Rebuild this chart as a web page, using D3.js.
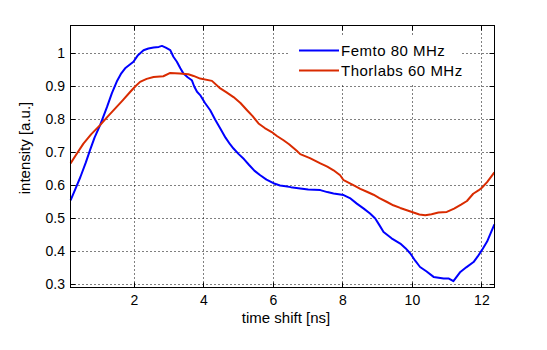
<!DOCTYPE html>
<html><head><meta charset="utf-8">
<script src="https://cdn.jsdelivr.net/npm/d3@7"></script>
<style>body{margin:0;background:#fff}svg{display:block}text{font-family:"Liberation Sans",Arial,sans-serif;fill:#000}</style>
</head><body><svg id="c" width="547" height="350"></svg>
<script>
const femtoX = [0.16,0.30,0.44,0.60,0.72,0.85,1.01,1.21,1.35,1.49,1.62,1.73,1.85,1.97,2.10,2.26,2.40,2.55,2.70,2.79,2.90,3.03,3.12,3.22,3.32,3.41,3.53,3.65,3.72,3.80,3.89,4.03,4.18,4.32,4.47,4.62,4.75,4.85,5.00,5.15,5.30,5.45,5.62,5.80,6.00,6.19,6.35,6.50,6.77,7.00,7.35,7.55,7.73,8.02,8.20,8.40,8.60,8.78,8.93,9.05,9.17,9.40,9.65,9.80,9.94,10.08,10.22,10.40,10.61,10.90,11.05,11.18,11.38,11.55,11.76,11.88,12.00,12.15,12.25,12.36];
const femtoY = [0.555,0.59,0.625,0.67,0.707,0.745,0.783,0.838,0.88,0.915,0.94,0.955,0.965,0.975,0.995,1.010,1.015,1.018,1.02,1.023,1.018,1.01,0.99,0.975,0.955,0.939,0.928,0.919,0.90,0.884,0.874,0.85,0.828,0.80,0.773,0.745,0.725,0.712,0.695,0.68,0.662,0.645,0.631,0.618,0.607,0.600,0.598,0.595,0.591,0.588,0.586,0.580,0.576,0.571,0.562,0.545,0.53,0.515,0.500,0.48,0.459,0.44,0.424,0.41,0.394,0.372,0.353,0.34,0.323,0.318,0.318,0.310,0.338,0.352,0.368,0.385,0.404,0.43,0.455,0.482];
const thorX = [0.16,0.30,0.53,0.75,1.01,1.22,1.44,1.66,1.88,2.02,2.16,2.35,2.55,2.83,3.03,3.30,3.55,3.70,3.89,4.23,4.47,4.65,4.85,5.05,5.24,5.40,5.57,5.75,5.95,6.10,6.29,6.45,6.67,6.77,7.05,7.35,7.55,7.73,7.92,8.02,8.30,8.50,8.69,8.88,9.05,9.27,9.45,9.65,9.84,10.03,10.20,10.37,10.55,10.75,10.99,11.20,11.40,11.57,11.75,11.90,12.00,12.15,12.36];
const thorY = [0.667,0.69,0.727,0.755,0.783,0.808,0.833,0.858,0.884,0.90,0.914,0.923,0.929,0.931,0.941,0.939,0.937,0.932,0.924,0.917,0.894,0.882,0.868,0.85,0.828,0.81,0.788,0.774,0.762,0.75,0.737,0.725,0.705,0.695,0.683,0.667,0.657,0.646,0.631,0.616,0.601,0.59,0.581,0.572,0.562,0.550,0.540,0.532,0.525,0.518,0.512,0.510,0.513,0.518,0.520,0.53,0.542,0.553,0.575,0.585,0.593,0.61,0.64];
const seriesNames = ["Femto 80 MHz","Thorlabs 60 MHz"];
const xTicks = [2,4,6,8,10,12];
const yTicks = [0.3,0.4,0.5,0.6,0.7,0.8,0.9,1.0];
const xLabel = "time shift [ns]";
const yLabel = "intensity [a.u.]";

const L=70.5, R=494.5, T=25.5, B=287.5;
const x = d3.scaleLinear().domain([0.158,12.363]).range([L,R]);
const y = d3.scaleLinear().domain([0.2909,1.0848]).range([B,T]);
const svg = d3.select("#c");
const crisp = v => Math.round(v-0.5)+0.5;

const grid = svg.append("g").attr("stroke","#000").attr("stroke-width",1).attr("stroke-dasharray","1,3");
xTicks.forEach(t=>grid.append("line").attr("x1",crisp(x(t))).attr("x2",crisp(x(t))).attr("y1",T).attr("y2",B));
yTicks.forEach(t=>grid.append("line").attr("y1",crisp(y(t))).attr("y2",crisp(y(t))).attr("x1",L).attr("x2",R));

const line = d3.line().x(d=>x(d[0])).y(d=>y(d[1]));
const colors = ["#0000ff","#d92b00"];
const series = [d3.zip(femtoX,femtoY), d3.zip(thorX,thorY)];
series.forEach((s,i)=>svg.append("path").datum(s).attr("d",line).attr("fill","none").attr("stroke",colors[i]).attr("stroke-width",2).attr("stroke-linejoin","round"));

// axes box and ticks
const ax = svg.append("g").attr("stroke","#000").attr("stroke-width",1);
ax.append("rect").attr("x",L).attr("y",T).attr("width",R-L).attr("height",B-T).attr("fill","none");
const tl=5;
xTicks.forEach(t=>{const px=crisp(x(t));
  ax.append("line").attr("x1",px).attr("x2",px).attr("y1",B).attr("y2",B-tl);
  ax.append("line").attr("x1",px).attr("x2",px).attr("y1",T).attr("y2",T+tl);});
yTicks.forEach(t=>{const py=crisp(y(t));
  ax.append("line").attr("y1",py).attr("y2",py).attr("x1",L).attr("x2",L+tl);
  ax.append("line").attr("y1",py).attr("y2",py).attr("x1",R).attr("x2",R-tl);});

svg.append("g").selectAll("text").data(xTicks).join("text")
  .attr("x",d=>x(d)).attr("y",305).attr("text-anchor","middle").attr("font-size",14).text(d=>d);
svg.append("g").selectAll("text").data(yTicks).join("text")
  .attr("x",65).attr("y",d=>y(d)+5).attr("text-anchor","end").attr("font-size",14).text(d=>d3.format("")(+d.toFixed(1)));

svg.append("text").attr("x",286).attr("y",323).attr("text-anchor","middle").attr("font-size",15).text(xLabel);
svg.append("text").attr("transform","translate(30,148) rotate(-90)").attr("text-anchor","middle").attr("font-size",15).text(yLabel);

// legend
const lg = svg.append("g");
lg.append("rect").attr("x",290).attr("y",37).attr("width",170).attr("height",47).attr("fill","#fff");
seriesNames.forEach((n,i)=>{const ly=50.5+i*20;
  lg.append("line").attr("x1",299).attr("x2",339).attr("y1",ly).attr("y2",ly).attr("stroke",colors[i]).attr("stroke-width",2);
  lg.append("text").attr("x",341).attr("y",ly+5.5).attr("font-size",15).attr("letter-spacing",0.5).text(n);});
</script></body></html>
